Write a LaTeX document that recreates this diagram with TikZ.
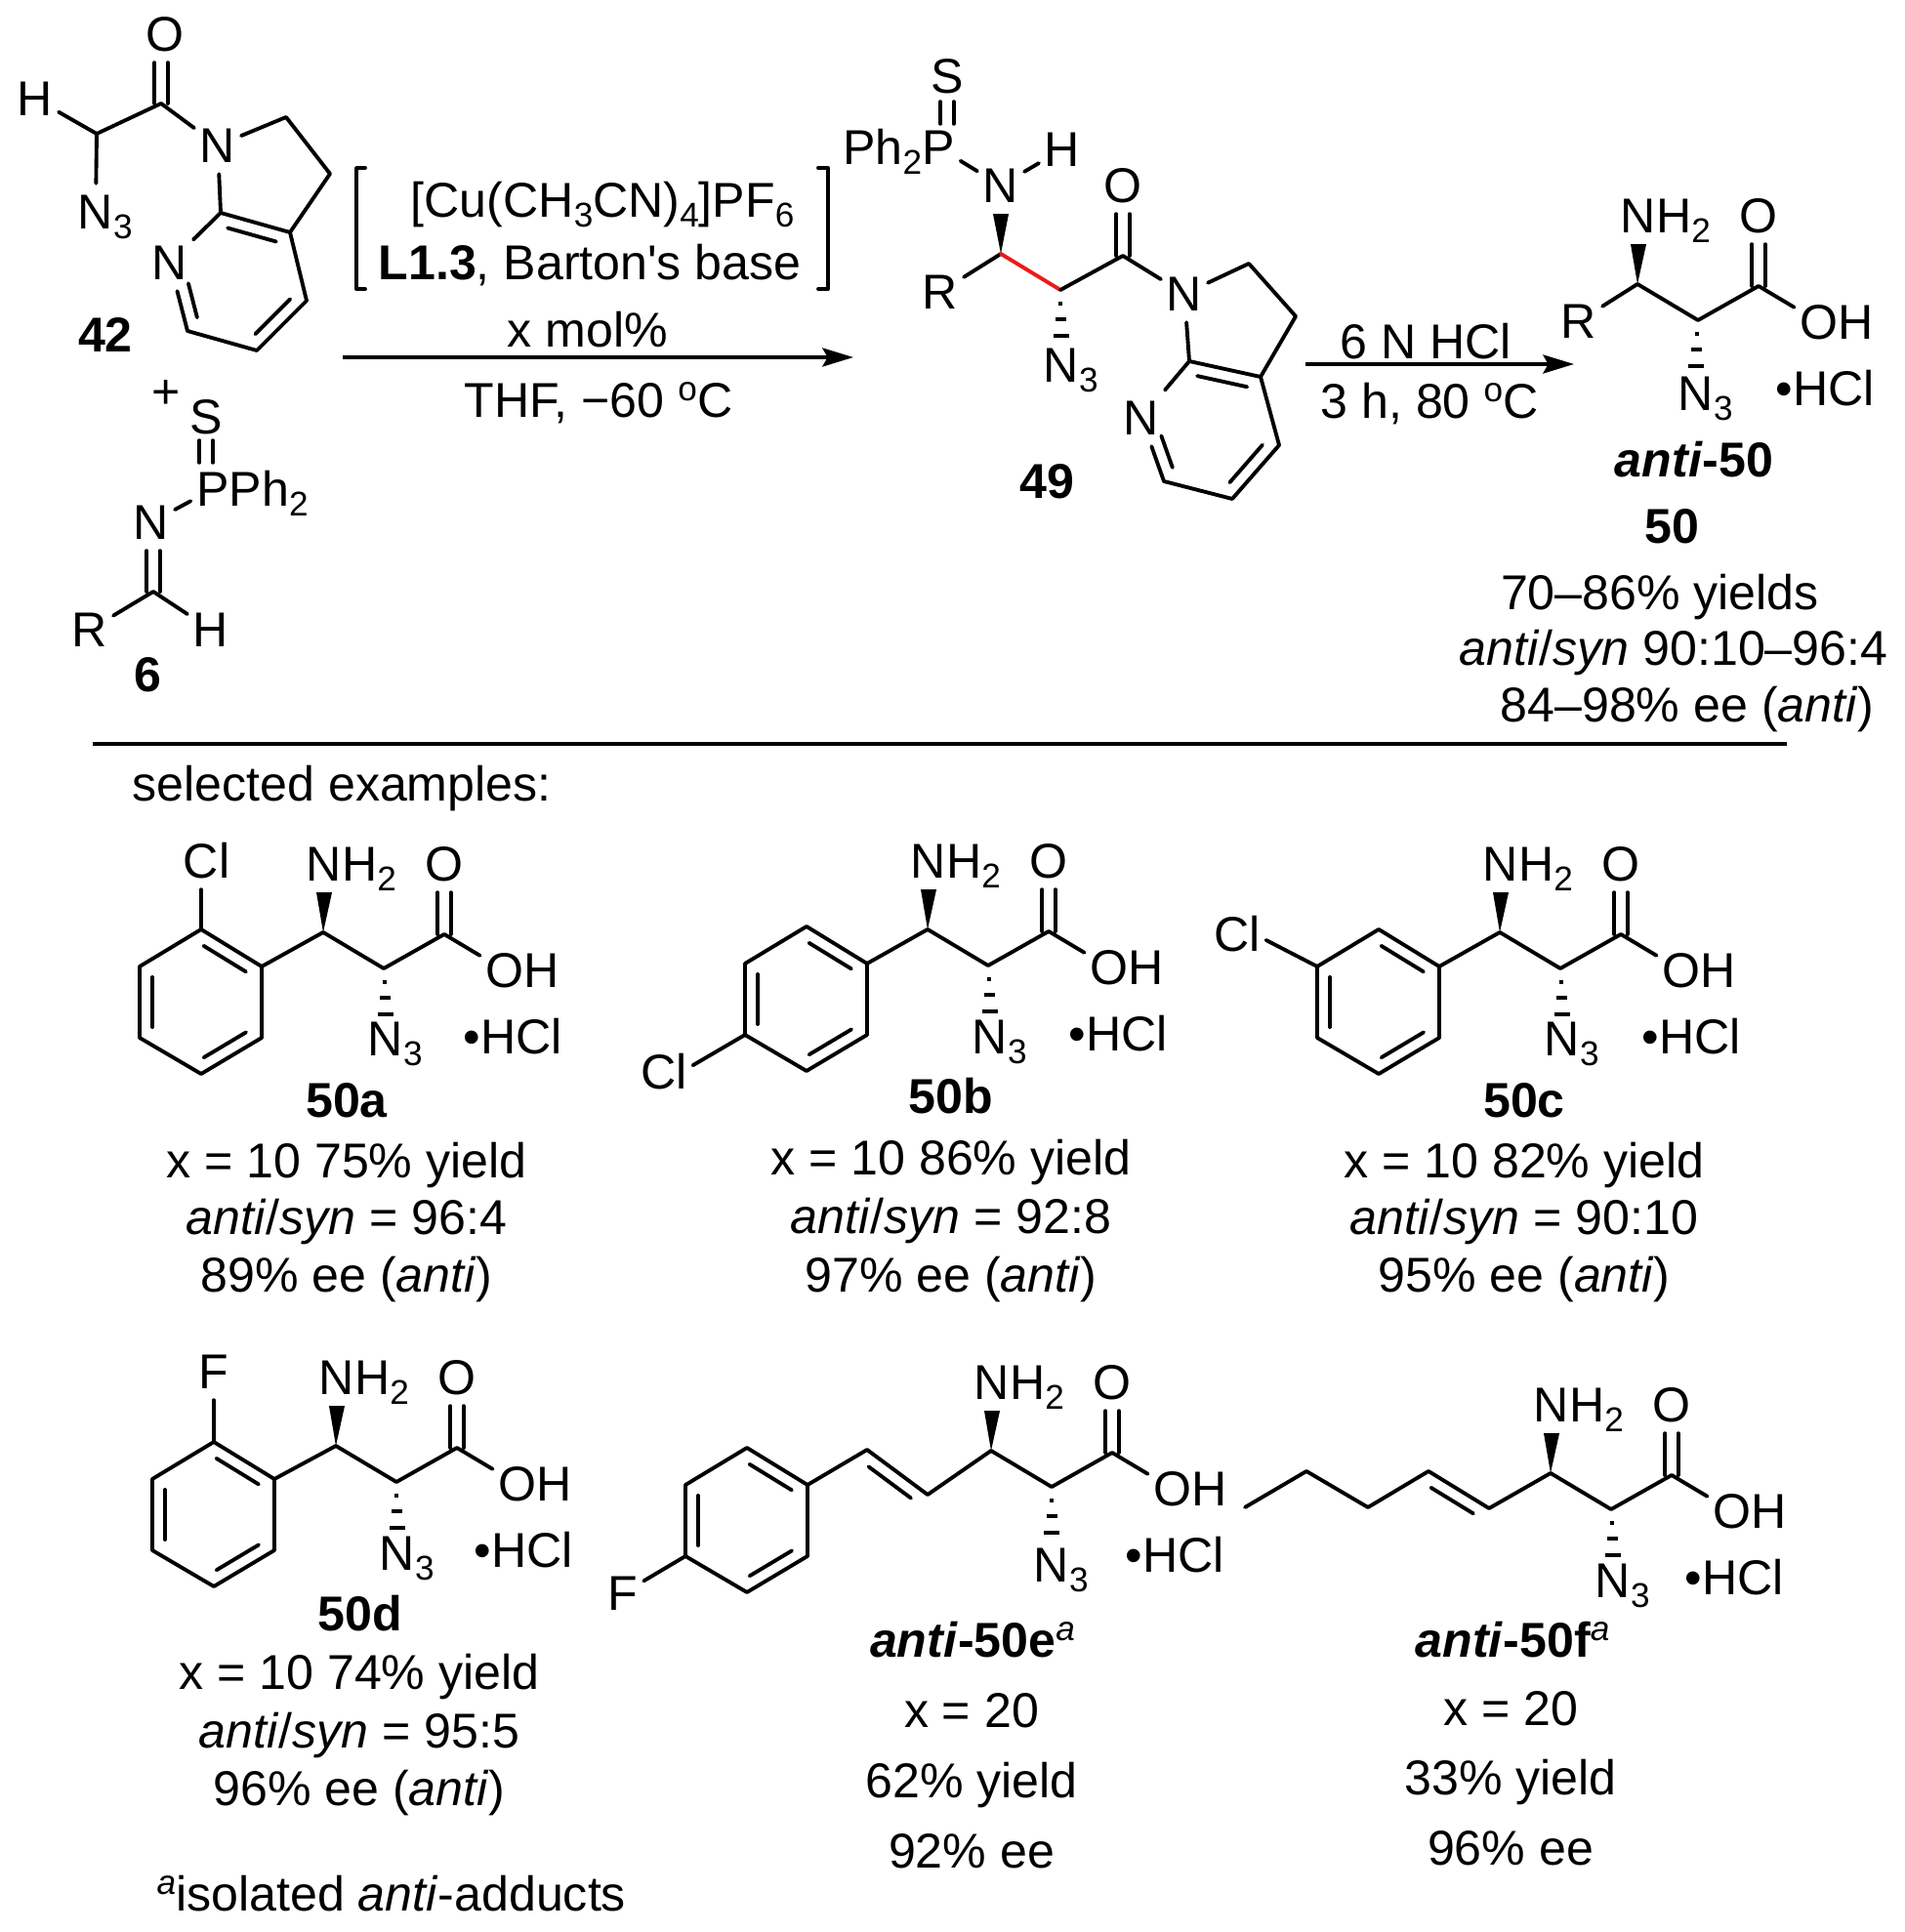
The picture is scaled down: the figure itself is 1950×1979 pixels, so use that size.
\documentclass[tikz,border=0pt]{standalone}
\usepackage{fontspec}
\setmainfont{Liberation Sans}
\usepackage{tikz}
\usetikzlibrary{positioning,calc,arrows.meta}
\definecolor{redbond}{rgb}{0.93, 0.1, 0.1}

\newcommand{\sbs}[1]{\raisebox{-2.8pt}{\fontsize{10pt}{10pt}\selectfont #1}}
\newcommand{\sps}[1]{\raisebox{5pt}{\fontsize{10pt}{10pt}\selectfont #1}}
\newcommand{\dblup}[2]{\draw[bond] ([xshift=-1.9pt]#1) -- ([xshift=-1.9pt]#2);
    \draw[bond] ([xshift=1.9pt]#1) -- ([xshift=1.9pt]#2);}
\newcommand{\dbl}[4][.15]{\draw[bond] ($(#2)!#1!(#3)!#4!-90:(#3)$) -- ($(#3)!.15!(#2)!#4!90:(#2)$);}
\newcommand{\wedgeb}[2]{\fill (#1) -- ($(#2.south)+(-8,0)$) -- ($(#2.south)+(8,0)$) -- cycle;}
\newcommand{\hashb}[2]{\foreach \dd/\ww in {0.14/2,0.30/5.5,0.47/8}
    {\draw[line width=1.1pt] ($(#1)!\dd cm!(#2.north)+(-\ww,0)$) -- ($(#1)!\dd cm!(#2.north)+(\ww,0)$);}}
\newcommand{\acidpart}[6]{
    \coordinate (#1CN) at (#2,#3);
    \coordinate (#1CX) at (#2+62,#3+37);
    \coordinate (#1CO) at (#2+124,#3+2);
    \node[atom] (#1NH) at (#2+1,#3-70) {N\rlap{H\sbs{2}}};
    \node[atom] (#1O) at (#2+124,#3-70) {O};
    \node[atom] (#1OH) at (#2+186,#3+39) {O\rlap{H}};
    \node[atom] (#1NN) at (#2+#5,#3+#6) {N\rlap{\sbs{3}}};
    \node[txt,anchor=west] (#1HCl) at (#2+#4,#3+107) {•HCl};
    \wedgeb{#1CN}{#1NH}
    \hashb{#1CX}{#1NN}
    \draw[bond] (#1CN) -- (#1CX) -- (#1CO) -- (#1OH);
    \dblup{#1CO}{#1CO |- #1O.south}
}
\newcommand{\arylring}[3]{
    \coordinate (#1r1) at (#2,#3);
    \coordinate (#1r2) at (#2+62,#3+38);
    \coordinate (#1r3) at (#2+62,#3+111);
    \coordinate (#1r4) at (#2,#3+148);
    \coordinate (#1r5) at (#2-63,#3+111);
    \coordinate (#1r6) at (#2-63,#3+38);
    \draw[bond] (#1r1) -- (#1r2) -- (#1r3) -- (#1r4) -- (#1r5) -- (#1r6) -- cycle;
    \dbl{#1r1}{#1r2}{.13cm}
    \dbl{#1r3}{#1r4}{.13cm}
    \dbl{#1r5}{#1r6}{.13cm}
}

\begin{document}
\begin{tikzpicture}[x=0.01cm,y=-0.01cm,
    bond/.style={line width=1.1pt,line cap=round,line join=round},
    rxn/.style={line width=1.1pt,-{Stealth[length=9pt,width=5.4pt,inset=1.5pt]}},
    txt/.style={inner sep=0pt,font=\fontsize{14.25pt}{17pt}\selectfont,text height=10.2pt,text depth=0pt},
    cmpd/.style={txt,font=\fontsize{14.25pt}{17pt}\selectfont\bfseries},
    atom/.style={txt,inner xsep=1.5pt,inner ysep=3pt}]
\useasboundingbox (0,0) rectangle (1950,1979);
%Compound 42
    \node[atom] (O42) at (169,35) {O};
    \node[atom] (H42) at (36,101) {H};
    \node[atom] (NN42) at (98,217) {N\rlap{\sbs{3}}};
    \node[atom] (N42) at (223,149) {N};
    \node[atom] (Npy42) at (174,269) {N};
    \coordinate (CH42) at (99,137);
    \coordinate (CO42) at (165,106);
    \coordinate (a42) at (293,120);
    \coordinate (b42) at (338,178);
    \coordinate (c42) at (297,238);
    \coordinate (d42) at (226,218);
    \coordinate (e42) at (314,308);
    \coordinate (f42) at (263,359);
    \coordinate (g42) at (192,339);
    \draw[bond] (H42) -- (CH42) -- (CO42) -- (N42) -- (a42) -- (b42) -- (c42) -- (d42) -- (N42);
    \draw[bond] (CH42) -- (NN42);
    \draw[bond] (d42) -- (Npy42) -- (g42) -- (f42) -- (e42) -- (c42);
    \dblup{CO42}{CO42 |- O42.south}
    \dbl{d42}{c42}{.13cm}
    \dbl{e42}{f42}{.13cm}
    \dbl[.35]{Npy42}{g42}{-.13cm}
    \node[cmpd] (L42) at (108,343) {42};
    \node[txt] (plus) at (170,401) {+};
%Compound 6
    \node[atom] (S6) at (211,427) {S};
    \node[atom] (P6) at (218,501) {P\rlap{Ph\sbs{2}}};
    \node[atom] (N6) at (155,535) {N};
    \node[atom] (R6) at (92,645) {R};
    \node[atom] (H6) at (216,645) {H};
    \coordinate (C6) at (157,606);
    \dblup{$(S6.south)+(0,-5)$}{$(S6 |- P6.north)+(0,2)$}
    \dblup{C6 |- N6.south}{C6}
    \draw[bond] (P6) -- (N6);
    \draw[bond] (R6) -- (C6) -- (H6);
    \node[cmpd] (L6) at (151,691) {6};
%Reagents
    \node[txt,anchor=west] (cat) at (420,205) {[Cu(CH\sbs{3}CN)\sbs{4}]PF\sbs{6}};
    \node[txt,anchor=west] (lig) at (387,269) {\textbf{L1.3}, Barton\textquotesingle s base};
    \node[txt] (xmol) at (602,338) {x mol\%};
    \node[txt] (thf) at (613,410) {THF, −60 \sps{o}C};
    \draw[bond] (374,172) -- (365,172) -- (365,296) -- (374,296);
    \draw[bond] (838,172) -- (848,172) -- (848,296) -- (838,296);
    \coordinate (ar1s) at (351,366);
    \coordinate (ar1e) at (874,366);
    \draw[rxn] (ar1s) -- (ar1e);
%Compound 49
    \node[atom] (S49) at (970,78) {S};
    \node[atom] (P49) at (961,151) {\llap{Ph\sbs{2}}P};
    \node[atom] (NH49) at (1025,190) {N};
    \node[atom] (H49) at (1088,153) {H};
    \node[atom] (O49) at (1150,190) {O};
    \node[atom] (R49) at (963,299) {R};
    \node[atom] (NN49) at (1087,374) {N\rlap{\sbs{3}}};
    \node[atom] (N49) at (1213,301) {N};
    \node[atom] (Npy49) at (1169,428) {N};
    \coordinate (CN49) at (1025,260);
    \coordinate (CX49) at (1086,297);
    \coordinate (CO49) at (1150,262);
    \coordinate (a49) at (1279,270);
    \coordinate (b49) at (1327,324);
    \coordinate (c49) at (1291,386);
    \coordinate (d49) at (1218,370);
    \coordinate (e49) at (1310,456);
    \coordinate (f49) at (1262,511);
    \coordinate (g49) at (1192,493);
    \dblup{$(S49.south)+(0,-3)$}{$(S49 |- P49.north)+(0,5)$}
    \draw[bond] (P49) -- (NH49) -- (H49);
    \wedgeb{CN49}{NH49}
    \hashb{CX49}{NN49}
    \draw[bond] (R49) -- (CN49);
    \draw[bond,color=redbond] (CN49) -- (CX49);
    \draw[bond] (CX49) -- (CO49) -- (N49) -- (a49) -- (b49) -- (c49) -- (d49) -- (N49);
    \draw[bond] (d49) -- (Npy49) -- (g49) -- (f49) -- (e49) -- (c49);
    \dblup{CO49}{CO49 |- O49.south}
    \dbl{d49}{c49}{.13cm}
    \dbl{e49}{f49}{.13cm}
    \dbl[.35]{Npy49}{g49}{-.13cm}
    \node[cmpd] (L49) at (1072,493) {49};
%Second step
    \node[txt] (hcl) at (1460,350) {6 N HCl};
    \node[txt] (temp) at (1464,411) {3 h, 80 \sps{o}C};
    \coordinate (ar2s) at (1337,373);
    \coordinate (ar2e) at (1612,373);
    \draw[rxn] (ar2s) -- (ar2e);
%Compound 50
    \acidpart{m}{1677}{291}{141}{60}{112}
    \node[atom] (Rm) at (1617,329) {R};
    \draw[bond] (Rm) -- (mCN);
    \node[cmpd] (Lm) at (1735,471) {\textit{anti}-50};
    \node[cmpd] (Lmm) at (1712,539) {50};
    \node[txt] (y1) at (1700,607) {70–86\% yields};
    \node[txt] (y2) at (1714,664) {\textit{anti}/\textit{syn} 90:10–96:4};
    \node[txt] (y3) at (1728,722) {84–98\% ee (\textit{anti})};
%Separator
    \coordinate (sepl) at (95,762);
    \coordinate (sepr) at (1830,762);
    \draw[line width=1.1pt] (sepl) -- (sepr);
    \node[txt,anchor=west] (sel) at (135,803) {selected examples:};
%50a
    \acidpart{a}{331}{955}{143}{64}{109}
    \arylring{a}{206}{952}
    \node[atom] (Cla) at (206,882) {C\rlap{l}};
    \draw[bond] (ar2) -- (aCN);
    \draw[bond] (ar1) -- (ar1 |- Cla.south);
    \node[cmpd] (La) at (355,1127) {50a};
    \node[txt] (a1) at (355,1189) {x = 10 75\% yield};
    \node[txt] (a2) at (355,1247) {\textit{anti}/\textit{syn} = 96:4};
    \node[txt] (a3) at (355,1306) {89\% ee (\textit{anti})};
%50b
    \acidpart{b}{950}{952}{144}{64}{110}
    \arylring{b}{826}{949}
    \node[atom] (Clb) at (698,1098) {\llap{C}l};
    \draw[bond] (br2) -- (bCN);
    \draw[bond] (br5) -- (Clb);
    \node[cmpd] (Lb) at (974,1123) {50b};
    \node[txt] (b1) at (974,1186) {x = 10 86\% yield};
    \node[txt] (b2) at (974,1246) {\textit{anti}/\textit{syn} = 92:8};
    \node[txt] (b3) at (974,1306) {97\% ee (\textit{anti})};
%50c
    \acidpart{c}{1536}{955}{145}{64}{109}
    \arylring{c}{1412}{952}
    \node[atom] (Clc) at (1285,957) {\llap{C}l};
    \draw[bond] (cr2) -- (cCN);
    \draw[bond] (cr6) -- (Clc);
    \node[cmpd] (Lc) at (1561,1127) {50c};
    \node[txt] (c1) at (1561,1189) {x = 10 82\% yield};
    \node[txt] (c2) at (1561,1247) {\textit{anti}/\textit{syn} = 90:10};
    \node[txt] (c3) at (1561,1306) {95\% ee (\textit{anti})};
%50d
    \acidpart{d}{344}{1481}{141}{63}{110}
    \arylring{d}{219}{1477}
    \node[atom] (Fd) at (219,1405) {F};
    \draw[bond] (dr2) -- (dCN);
    \draw[bond] (dr1) -- (Fd);
    \node[cmpd] (Ld) at (369,1653) {50d};
    \node[txt] (d1) at (368,1713) {x = 10 74\% yield};
    \node[txt] (d2) at (368,1773) {\textit{anti}/\textit{syn} = 95:5};
    \node[txt] (d3) at (368,1832) {96\% ee (\textit{anti})};
    \node[txt,anchor=west] (foot) at (160,1940) {\sps{\textit{a}}isolated \textit{anti}-adducts};
%50e
    \acidpart{e}{1015}{1486}{137}{62}{117}
    \arylring{e}{765}{1483}
    \node[atom] (Fe) at (638,1632) {F};
    \coordinate (ev1) at (888,1485);
    \coordinate (ev2) at (950,1531);
    \draw[bond] (er2) -- (ev1) -- (ev2) -- (eCN);
    \dbl{ev1}{ev2}{.13cm}
    \draw[bond] (er5) -- (Fe);
    \node[cmpd] (Le) at (996,1680) {\textit{anti}-50e\sps{\mdseries\itshape a}};
    \node[txt] (e1) at (995,1752) {x = 20};
    \node[txt] (e2) at (995,1824) {62\% yield};
    \node[txt] (e3) at (995,1896) {92\% ee};
%50f
    \acidpart{f}{1588}{1509}{137}{64}{110}
    \coordinate (fa) at (1275,1544);
    \coordinate (fb) at (1338,1507);
    \coordinate (fc) at (1401,1544);
    \coordinate (fd) at (1463,1507);
    \coordinate (fe) at (1525,1545);
    \draw[bond] (fa) -- (fb) -- (fc) -- (fd) -- (fe) -- (fCN);
    \dbl{fd}{fe}{.13cm}
    \node[cmpd] (Lf) at (1549,1680) {\textit{anti}-50f\sps{\mdseries\itshape a}};
    \node[txt] (f1) at (1547,1750) {x = 20};
    \node[txt] (f2) at (1547,1821) {33\% yield};
    \node[txt] (f3) at (1547,1893) {96\% ee};
\end{tikzpicture}
\end{document}
